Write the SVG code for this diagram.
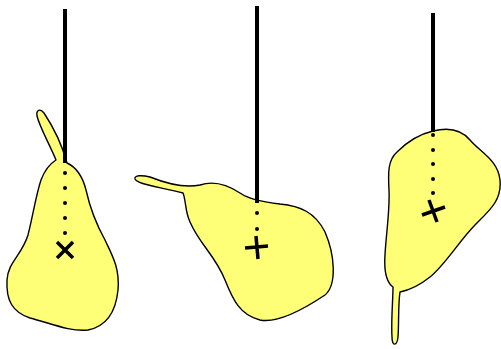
<svg xmlns="http://www.w3.org/2000/svg" width="501" height="349" viewBox="0 0 501 349">
  <style>
    .string { stroke: #000; stroke-width: 4; fill: none; }
    .pear { fill: #ffff77; stroke: #000; stroke-width: 1.4; stroke-linejoin: round; }
    .mark { stroke: #000; stroke-width: 3.5; fill: none; }
    .dot { fill: #000; }
  </style>
  <rect width="501" height="349" fill="#fff"/>

  <!-- Pear hung from the base of its stem -->
  <g id="pear1">
    <path class="pear" d="M 67,163 C 62,145 52,125 44,113 C 40,108 36,110 37,116 C 40,128 50,145 56,160 C 48,165 44,172 41,180 C 36,195 33,215 28,235 C 22,255 8,262 7,280 C 6,300 12,312 30,318 C 50,323 70,332 88,330 C 108,326 116,310 118,290 C 120,268 112,255 105,240 C 95,222 90,208 86,190 C 83,178 78,168 67,163 Z"/>
    <line class="string" x1="65" y1="9" x2="65" y2="163"/>
    <circle class="dot" cx="65" cy="173" r="2"/>
    <circle class="dot" cx="65" cy="188" r="2"/>
    <circle class="dot" cx="65" cy="203" r="2"/>
    <circle class="dot" cx="65" cy="218" r="2"/>
    <circle class="dot" cx="65" cy="233" r="2"/>
    <path class="mark" d="M 57,242 L 73,258 M 57,258 L 73,242"/>
  </g>

  <!-- Pear hung from its shoulder -->
  <g id="pear2">
    <path class="pear" d="M 200,185 C 185,188 170,185 150,177 C 142,175 134,175 135,179 C 137,184 155,186 183,193 C 186,200 185,212 190,222 C 200,245 215,255 225,280 C 233,300 240,315 260,320 C 280,324 310,305 325,295 C 337,285 335,255 325,232 C 315,212 300,206 280,204 C 265,202 250,200 240,193 C 228,185 215,180 200,185 Z"/>
    <line class="string" x1="257" y1="6" x2="257" y2="203"/>
    <circle class="dot" cx="257" cy="213" r="2"/>
    <circle class="dot" cx="257" cy="229" r="2"/>
    <path class="mark" d="M 245,248 L 268,246 M 256,236 L 258,259"/>
  </g>

  <!-- Pear hung from its broad end -->
  <g id="pear3">
    <path class="pear" d="M 433,131 C 445,128 460,128 470,140 C 480,152 498,160 500,180 C 502,200 490,210 475,225 C 460,240 445,265 430,277 C 420,285 410,290 400,292 C 398,305 399,325 398,337 C 397,346 392,347 392,337 C 391,320 393,300 393,287 C 386,282 384,270 385,255 C 386,235 390,210 389,190 C 388,172 388,160 397,152 C 407,142 420,134 433,131 Z"/>
    <line class="string" x1="433" y1="13" x2="433" y2="132"/>
    <circle class="dot" cx="433" cy="135" r="2"/>
    <circle class="dot" cx="433" cy="150" r="2"/>
    <circle class="dot" cx="433" cy="164" r="2"/>
    <circle class="dot" cx="433" cy="179" r="2"/>
    <circle class="dot" cx="433" cy="193" r="2"/>
    <path class="mark" d="M 422,215 L 445,207 M 429,200 L 437,222"/>
  </g>
</svg>
